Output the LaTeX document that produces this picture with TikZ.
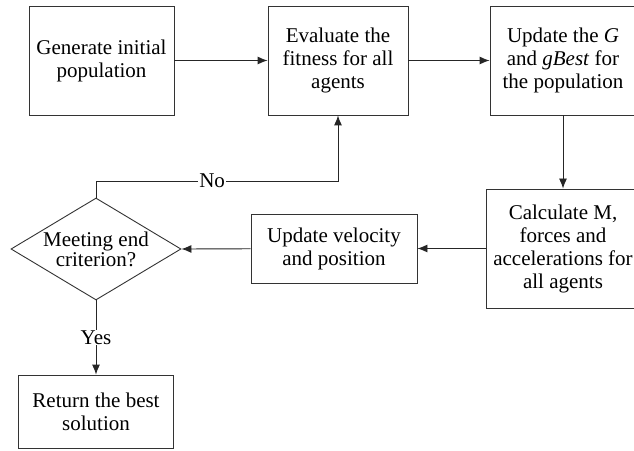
\documentclass[tikz,border=0pt]{standalone}
\usepackage{fontspec}
\setmainfont{Liberation Serif}
\usetikzlibrary{shapes.geometric,arrows.meta}
\begin{document}
\begin{tikzpicture}[x=1pt,y=1pt,
    box/.style={draw=black!80, line width=0.9pt, align=center, inner sep=2pt, font=\fontsize{21}{23}\selectfont},
    decision/.style={diamond, draw=black!80, line width=0.9pt, align=center, aspect=1.67, inner sep=-10pt, font=\fontsize{21}{20}\selectfont},
    lbl/.style={fill=white, inner sep=1pt, font=\fontsize{21}{23}\selectfont},
    arr/.style={draw=black!85, line width=0.9pt, -{Latex[length=10pt,width=8pt]}}]
    \useasboundingbox (0,0) rectangle (634,450);
    \clip (0,0) rectangle (634,450);
    \fill [white] (0,0) rectangle (634,450);
    \node [box, minimum width=145pt, minimum height=109pt] (init) at (101.5,389.5) {Generate initial\\population};
    \node [box, minimum width=140pt, minimum height=109pt] (eval) at (338,389.5) {Evaluate the\\fitness for all\\agents};
    \node [box, minimum width=146pt, minimum height=109pt] (best) at (563,389.5) {Update the \textit{G}\\and \textit{gBest} for\\the population};
    \node [box, minimum width=154pt, minimum height=119pt] (calc) at (563,201.5) {Calculate M,\\forces and\\accelerations for\\all agents};
    \node [box, minimum width=166pt, minimum height=69pt] (move) at (334,201.5) {Update velocity\\and position};
    \node [decision, minimum width=170pt, minimum height=102pt] (stop) at (96,201) {Meeting end\\criterion?};
    \node [box, minimum width=155pt, minimum height=73pt] (ret) at (96,38.5) {Return the best\\solution};
    \coordinate (noturn) at (96,269);
    \draw [arr] (init) -- (eval);
    \draw [arr] (eval) -- (best);
    \draw [arr] (best) -- (calc);
    \draw [arr] (calc) -- (move);
    \draw [arr] (move) -- (stop.east);
    \draw [arr] (stop.north) -- (noturn) -| (eval.south) node [lbl, pos=0.24] {No};
    \draw [arr] (stop.south) -- (ret.north) node [lbl, midway] {Yes};
\end{tikzpicture}
\end{document}
